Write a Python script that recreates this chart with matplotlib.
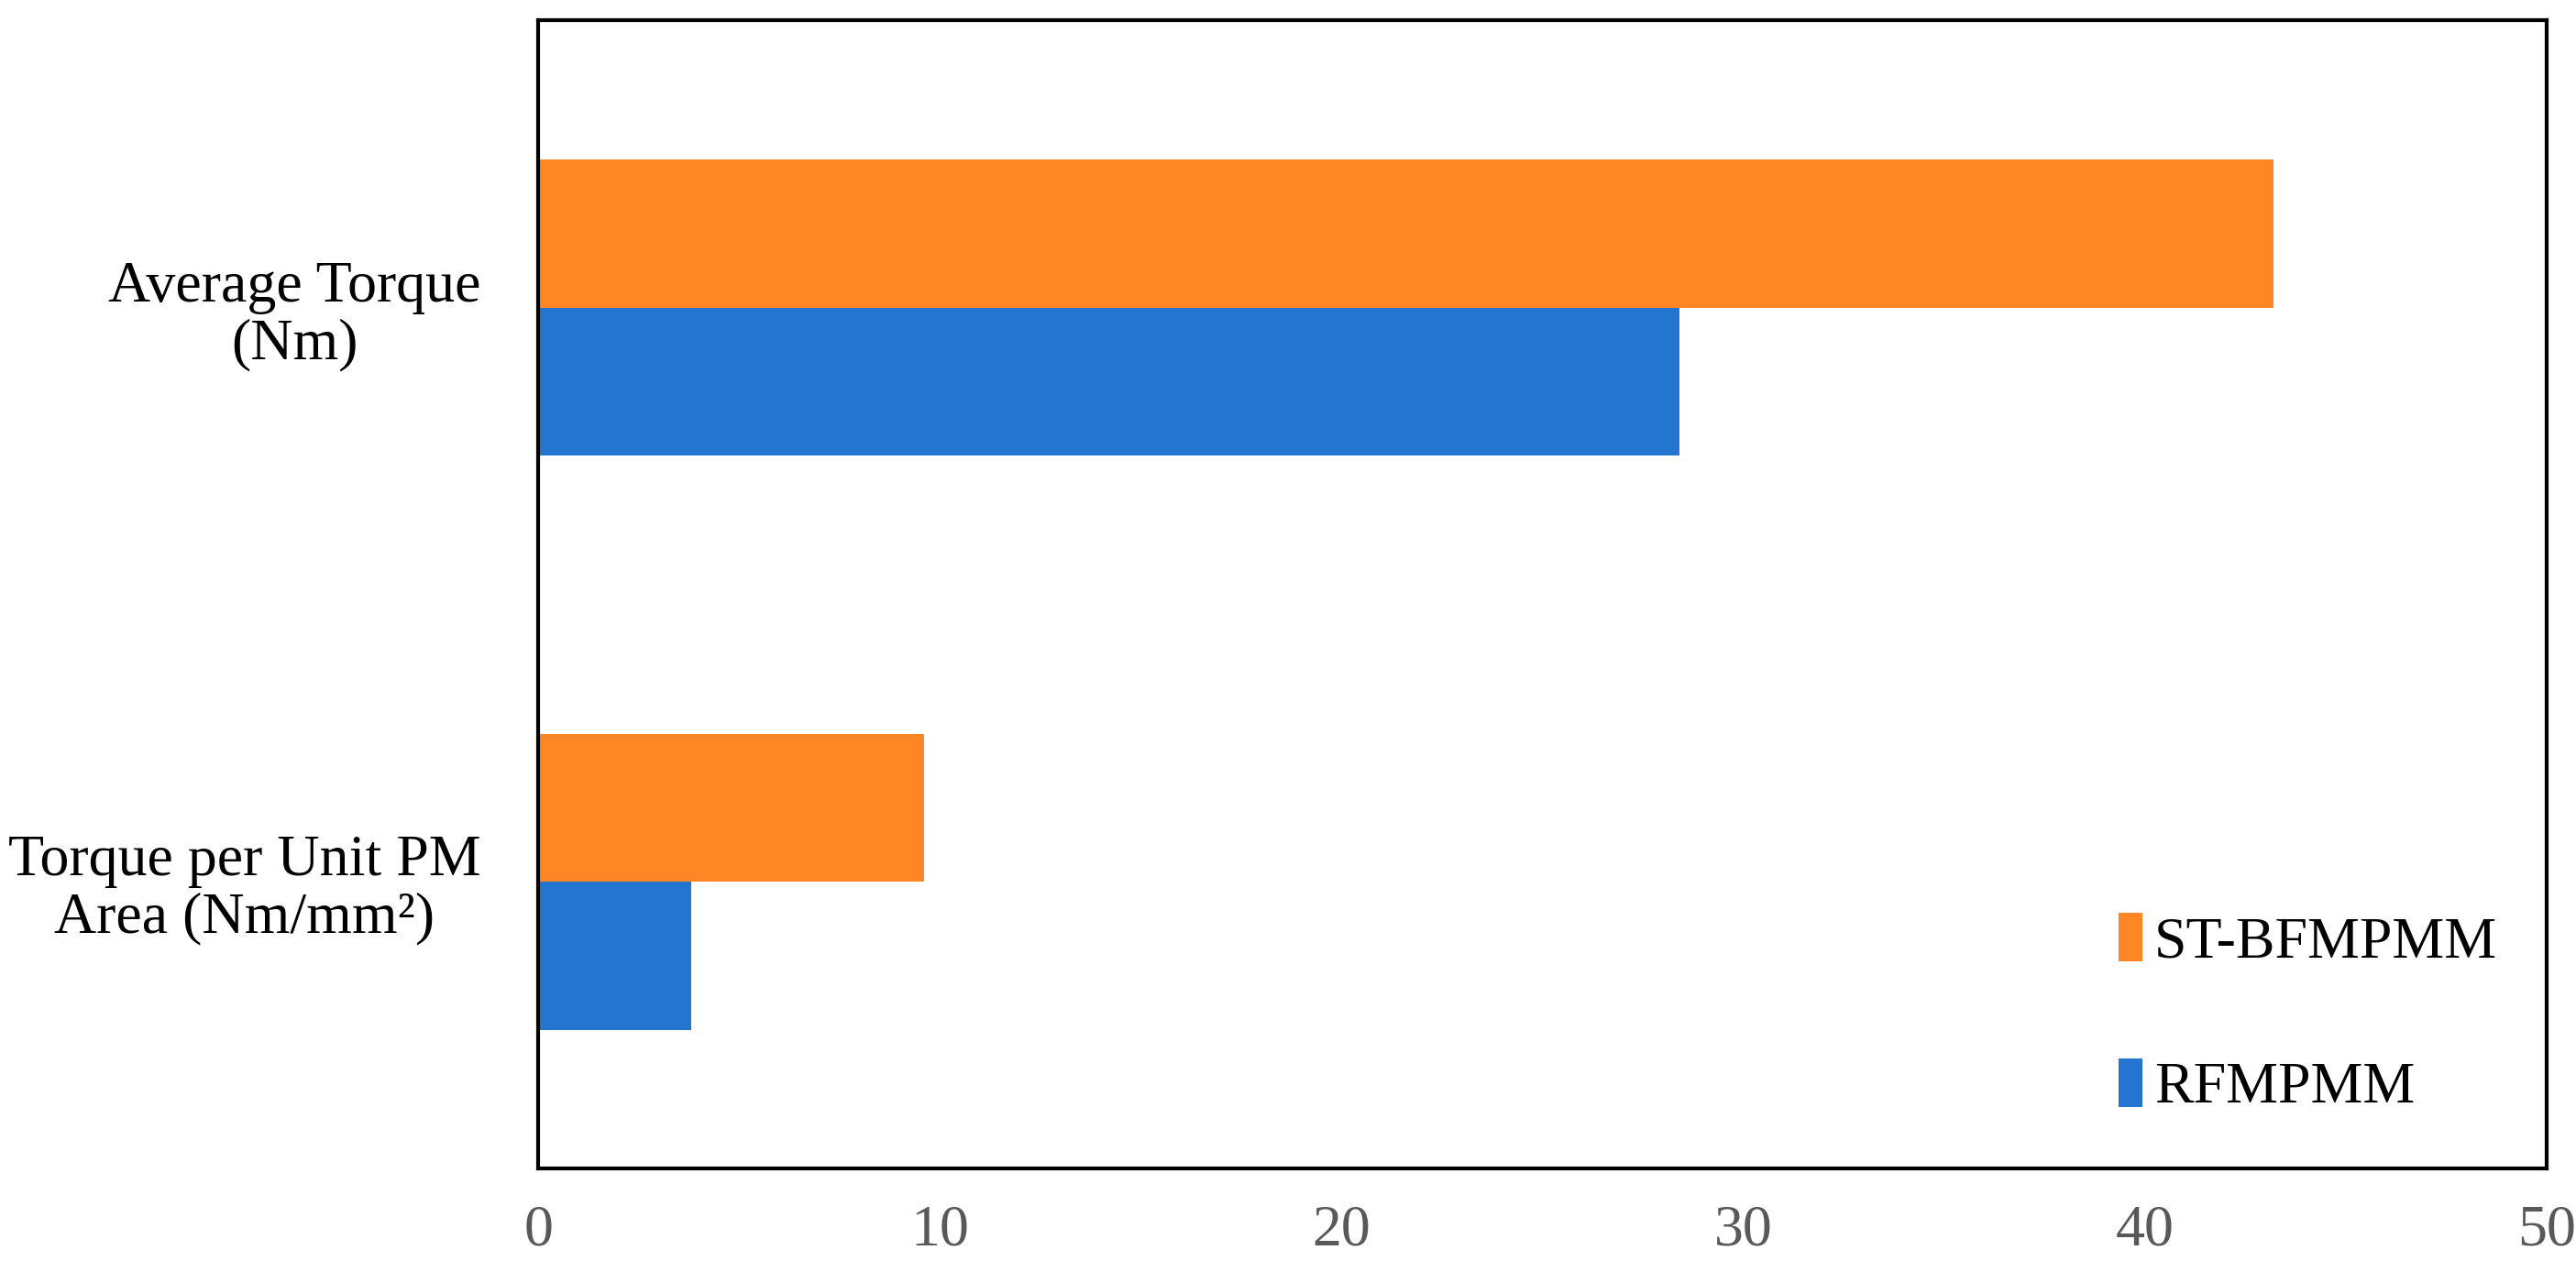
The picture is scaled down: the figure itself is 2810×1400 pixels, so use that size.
import matplotlib
matplotlib.use("Agg")
import matplotlib.pyplot as plt
import numpy as np

plt.rcParams['font.family'] = ['Liberation Serif', 'DejaVu Serif']

categories = ["Torque per Unit PM\nArea (Nm/mm²)", "Average Torque\n(Nm)"]
st_bfmpmm = [9.6, 43.2]
rfmpmm = [3.8, 28.4]

orange = "#FF8624"
blue = "#2475D0"

fig = plt.figure(figsize=(28.1, 14), dpi=100)
ax = fig.add_axes([0.209, 0.089, 0.7796, 0.895])

y = np.arange(len(categories))
h = 0.258
b_orange = ax.barh(y + h / 2, st_bfmpmm, height=h, color=orange, label="ST-BFMPMM")
b_blue = ax.barh(y - h / 2, rfmpmm, height=h, color=blue, label="RFMPMM")

ax.set_xlim(0, 50)
ax.set_ylim(-0.5, 1.5)
ax.set_xticks([0, 10, 20, 30, 40, 50])
ax.set_yticks(y)
ax.set_yticklabels(categories, fontsize=46)
for t in ax.get_yticklabels():
    t.set_multialignment("center")
    t.set_linespacing(1.1)
ax.tick_params(axis="x", length=0, pad=28, labelsize=46, labelcolor="#595959")
ax.tick_params(axis="y", length=0, pad=45)

for s in ax.spines.values():
    s.set_linewidth(3)
    s.set_color("black")

ax.legend(handles=[b_orange, b_blue], loc="lower right",
          bbox_to_anchor=(0.987, 0.026), borderaxespad=0, frameon=False,
          fontsize=46, handlelength=0.4, handleheight=0.9, handletextpad=0.2,
          labelspacing=1.5)

fig.savefig("out.png", dpi=100)
